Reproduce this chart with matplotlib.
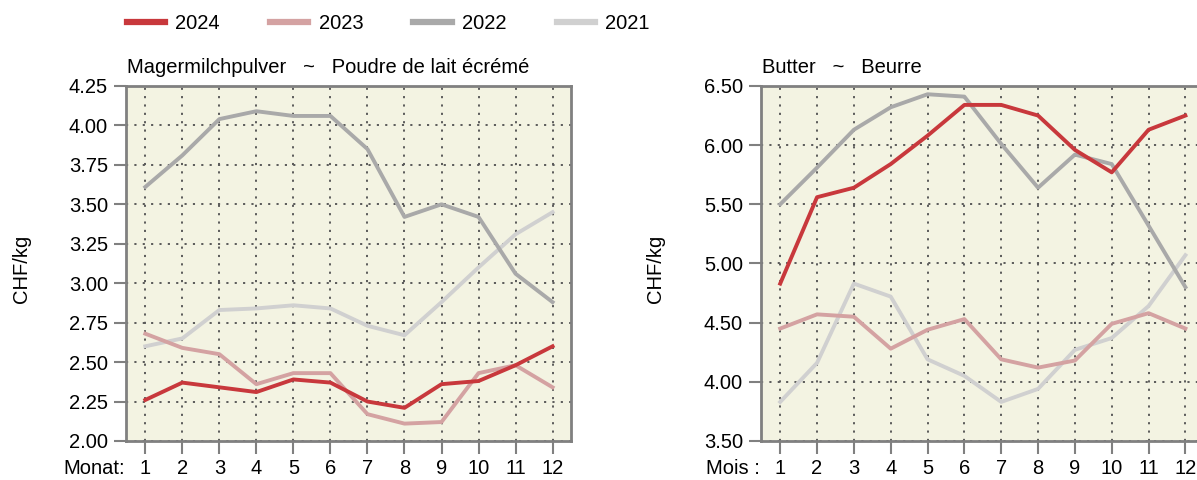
"""Monthly prices for skimmed milk powder and butter, 2021-2024."""

import matplotlib

matplotlib.use("Agg")

import matplotlib.pyplot as plt
from matplotlib.lines import Line2D

plt.rcParams["font.family"] = ["Liberation Sans", "DejaVu Sans"]

MONTHS = list(range(1, 13))
YEARS = ["2024", "2023", "2022", "2021"]

# Magermilchpulver ~ Poudre de lait écrémé (CHF/kg)
POWDER_2024 = [2.26, 2.37, 2.34, 2.31, 2.39, 2.37, 2.25, 2.21, 2.36, 2.38, 2.48, 2.60]
POWDER_2023 = [2.68, 2.59, 2.55, 2.36, 2.43, 2.43, 2.17, 2.11, 2.12, 2.43, 2.48, 2.34]
POWDER_2022 = [3.61, 3.81, 4.04, 4.09, 4.06, 4.06, 3.85, 3.42, 3.50, 3.42, 3.06, 2.88]
POWDER_2021 = [2.60, 2.65, 2.83, 2.84, 2.86, 2.84, 2.73, 2.67, 2.88, 3.10, 3.31, 3.45]

# Butter ~ Beurre (CHF/kg)
BUTTER_2024 = [4.83, 5.56, 5.64, 5.84, 6.08, 6.34, 6.34, 6.25, 5.96, 5.77, 6.13, 6.25]
BUTTER_2023 = [4.45, 4.57, 4.55, 4.28, 4.44, 4.53, 4.19, 4.12, 4.18, 4.49, 4.58, 4.45]
BUTTER_2022 = [5.50, 5.81, 6.13, 6.32, 6.43, 6.41, 6.01, 5.64, 5.92, 5.84, 5.32, 4.80]
BUTTER_2021 = [3.83, 4.16, 4.83, 4.72, 4.19, 4.05, 3.83, 3.94, 4.27, 4.37, 4.64, 5.07]

POWDER_TICKS = [2.00, 2.25, 2.50, 2.75, 3.00, 3.25, 3.50, 3.75, 4.00, 4.25]
BUTTER_TICKS = [3.50, 4.00, 4.50, 5.00, 5.50, 6.00, 6.50]

COLORS = {"2024": "#c8383c", "2023": "#d4a2a2", "2022": "#a9a9a9", "2021": "#d0d0d0"}
BG = "#f3f3e2"
FRAME = "#808080"
FS = 14.5
TICK_LEN = 9
TICK_PAD = 4


def draw_panel(ax, series, ticks, title, xname):
    """One panel: four year lines on a dotted grid."""
    ax.set_facecolor(BG)
    for year in ["2021", "2022", "2023", "2024"]:
        ax.plot(MONTHS, series[year], color=COLORS[year], lw=2.8, zorder=3)

    ax.set_xlim(0.48, 12.5)
    ax.set_ylim(ticks[0], ticks[-1])
    ax.set_xticks(MONTHS)
    ax.set_yticks(ticks)
    ax.set_yticklabels([f"{t:.2f}" for t in ticks])
    ax.grid(True, color="#5a5a5a", lw=1.4, linestyle=(0, (1.1, 3.2)), zorder=1)
    ax.tick_params(direction="out", length=TICK_LEN, width=1.5, color=FRAME,
                   labelsize=FS, pad=TICK_PAD)
    for spine in ax.spines.values():
        spine.set_color(FRAME)
        spine.set_linewidth(2)

    ax.text(0.003, 1.025, title, transform=ax.transAxes, fontsize=FS,
            ha="left", va="bottom")
    ax.annotate(xname, xy=(0, 0), xycoords="axes fraction",
                xytext=(-1, -(TICK_LEN + TICK_PAD)), textcoords="offset points",
                ha="right", va="top", fontsize=FS)


fig = plt.figure(figsize=(11.97, 4.8), dpi=100)
ax_left = fig.add_axes([0.1053, 0.0813, 0.3718, 0.7396])
ax_right = fig.add_axes([0.6358, 0.0813, 0.3699, 0.7396])

draw_panel(
    ax_left,
    {"2024": POWDER_2024, "2023": POWDER_2023, "2022": POWDER_2022, "2021": POWDER_2021},
    POWDER_TICKS,
    "Magermilchpulver   ~   Poudre de lait écrémé",
    "Monat:",
)
draw_panel(
    ax_right,
    {"2024": BUTTER_2024, "2023": BUTTER_2023, "2022": BUTTER_2022, "2021": BUTTER_2021},
    BUTTER_TICKS,
    "Butter   ~   Beurre",
    "Mois :",
)

fig.text(0.018, 0.44, "CHF/kg", rotation=90, fontsize=FS, ha="center", va="center")
fig.text(0.548, 0.44, "CHF/kg", rotation=90, fontsize=FS, ha="center", va="center")

handles = [Line2D([], [], color=COLORS[y], lw=4.5) for y in YEARS]
fig.legend(handles, YEARS, loc="center left", bbox_to_anchor=(0.106, 0.951),
           ncol=4, frameon=False, fontsize=FS, handlelength=1.9,
           handletextpad=0.5, columnspacing=2.5, borderpad=0, borderaxespad=0)

fig.savefig("out.png", dpi=100)
plt.close(fig)
